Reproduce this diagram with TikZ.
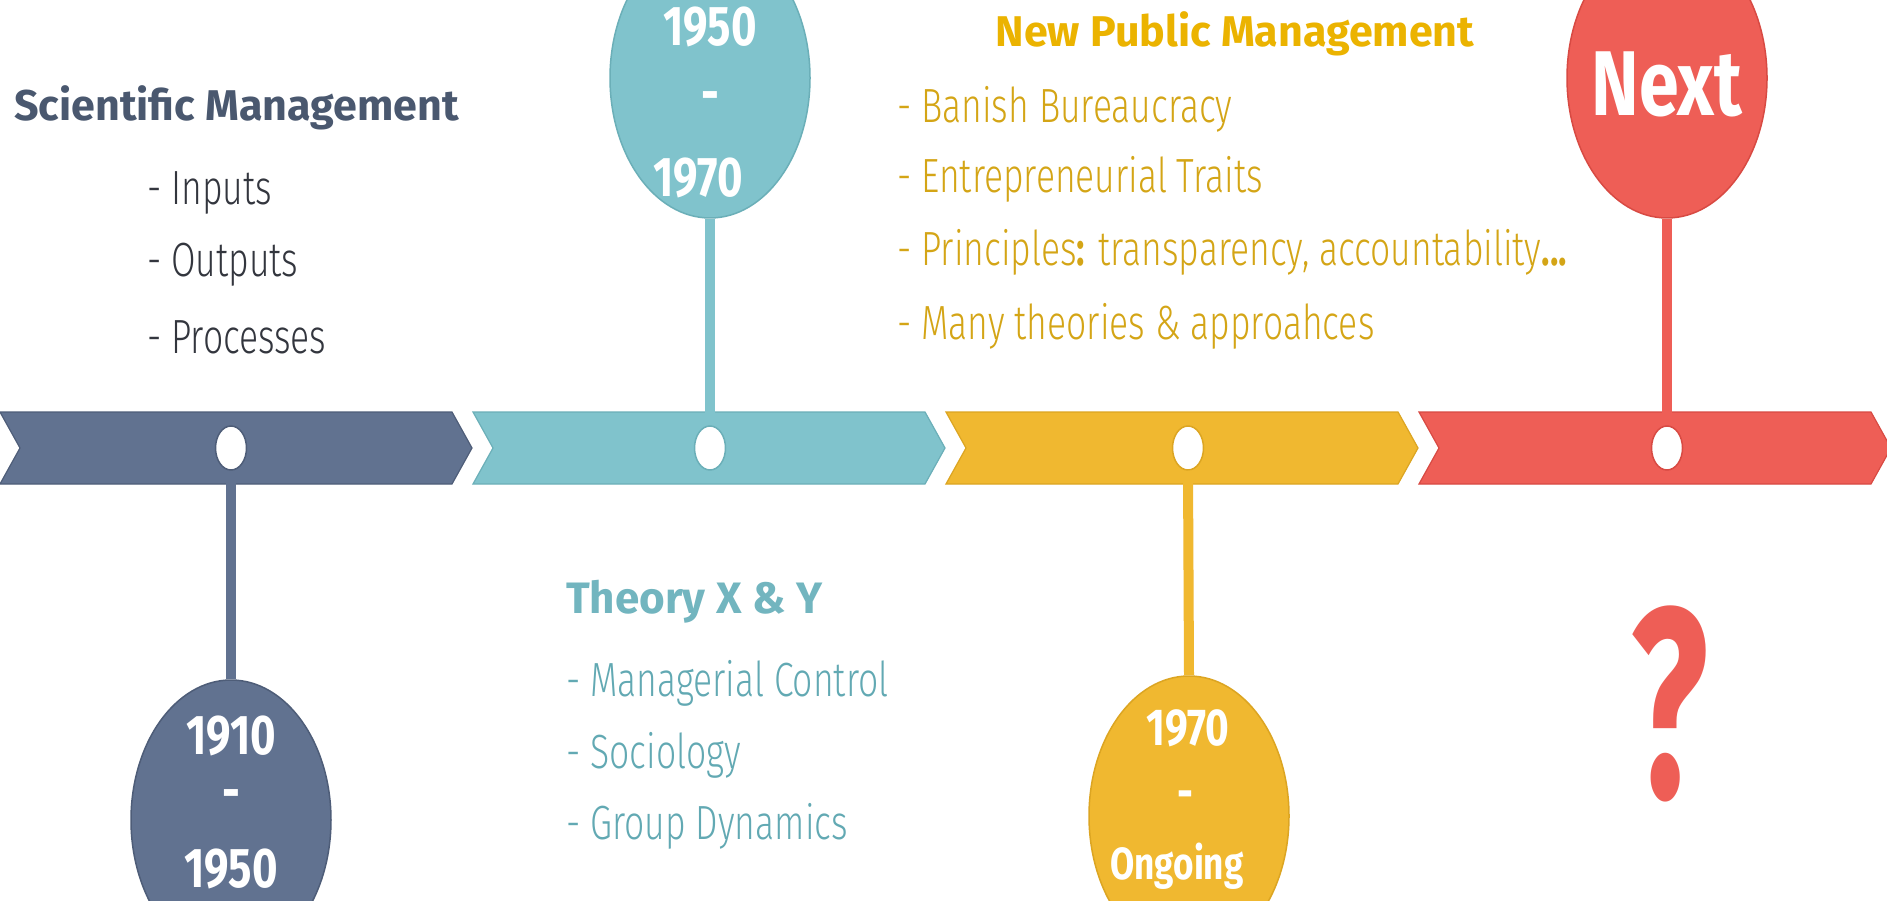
\documentclass[tikz,border=0pt]{standalone}
\usepackage{fontspec}
\setmainfont{Fira Sans}
\newfontfamily\headfont{Fira Sans}
\newfontfamily\condfont[FakeStretch=0.78]{Fira Sans}
\newfontfamily\lightfont[FakeStretch=0.74]{Fira Sans Light}
\newfontfamily\qfont[FakeStretch=0.6]{Fira Sans}
\usetikzlibrary{shapes.geometric}
\definecolor{cSlate}{HTML}{617290}
\definecolor{cSlateD}{HTML}{4E5D78}
\definecolor{cSlateT}{HTML}{4A586F}
\definecolor{cSlateL}{HTML}{33363E}
\definecolor{cTeal}{HTML}{80C3CC}
\definecolor{cTealD}{HTML}{6BAFB8}
\definecolor{cTealT}{HTML}{72B5BF}
\definecolor{cTealL}{HTML}{62A9B3}
\definecolor{cGold}{HTML}{F0B830}
\definecolor{cGoldD}{HTML}{DCA522}
\definecolor{cGoldT}{HTML}{EBB300}
\definecolor{cGoldL}{HTML}{D4A516}
\definecolor{cCoral}{HTML}{EE5E56}
\definecolor{cCoralD}{HTML}{D84A43}
\tikzset{
  seg/.style={line width=1.2pt},
  pin/.style={ellipse, minimum width=200pt, minimum height=280pt, inner sep=0pt, line width=1.5pt},
  dotc/.style={ellipse, fill=white, minimum width=31pt, minimum height=44pt, inner sep=0pt, line width=1.5pt},
  stem/.style={line width=10pt},
  head/.style={font=\headfont\bfseries\fontsize{43}{50}\selectfont, inner sep=0pt},
  item/.style={font=\lightfont\fontsize{48}{56}\selectfont, anchor=west, inner sep=0pt},
  year/.style={font=\condfont\bfseries\fontsize{56}{60}\selectfont, text=white, inner sep=0pt},
}
\begin{document}
\begin{tikzpicture}[x=1pt,y=-1pt]
\useasboundingbox (0,0) rectangle (1887,901);
\clip (0,0) rectangle (1887,901);
\fill[white] (0,0) rectangle (1887,901);
% chevron band
\foreach \L/\c/\d in {0/cSlate/cSlateD, 473/cTeal/cTealD, 946/cGold/cGoldD, 1419/cCoral/cCoralD}
  \filldraw[fill=\c, draw=\d, seg] (\L,412) -- ++(452,0) -- ++(20,36) -- ++(-20,36) -- ++(-452,0) -- ++(20,-36) -- cycle;
% pins
\node[pin, fill=cSlate, draw=cSlateD] (p1) at (231,820) {};
\node[pin, fill=cTeal, draw=cTealD] (p2) at (710,78) {};
\node[pin, fill=cGold, draw=cGoldD] (p3) at (1189,816) {};
\node[pin, fill=cCoral, draw=cCoralD] (p4) at (1667,78) {};
% dots
\node[dotc, draw=cSlateD] (d1) at (231,448) {};
\node[dotc, draw=cTealD] (d2) at (710,448) {};
\node[dotc, draw=cGoldD] (d3) at (1188,448) {};
\node[dotc, draw=cCoralD] (d4) at (1667,448) {};
% stems
\draw[stem, cSlate] (p1.north) -- (d1.south);
\draw[stem, cTeal] (p2.south) -- (d2.north);
\draw[stem, cGold] (p3.north) -- (d3.south);
\draw[stem, cCoral] (p4.south) -- (d4.north);
% years
\node[year] (y1a) at (231,736) {1910};
\node[year] (y1b) at (231,800) {-};
\node[year] (y1c) at (231,869) {1950};
\node[year] (y2a) at (710,27) {1950};
\node[year] (y2b) at (710,102) {-};
\node[year] (y2c) at (698,178) {1970};
\node[year, font=\condfont\bfseries\fontsize{52}{56}\selectfont] (y3a) at (1188,728) {1970};
\node[year, font=\condfont\bfseries\fontsize{50}{54}\selectfont] (y3b) at (1185,800) {-};
\node[year, font=\condfont\bfseries\fontsize{45}{50}\selectfont] (y3c) at (1177,866) {Ongoing};
\node[year, font=\condfont\bfseries\fontsize{92}{96}\selectfont] (nx) at (1667,84) {Next};
% headings
\node[head, anchor=west, text=cSlateT] (h1) at (14,108) {Scientific Management};
\node[head, text=cGoldT] (h3) at (1235,34) {New Public Management};
\node[head, anchor=west, text=cTealT, font=\headfont\bfseries\fontsize{44}{52}\selectfont] (h2) at (566,602) {Theory X \& Y};
% lists
\node[item, text=cSlateL] (a1) at (147,193) {- Inputs};
\node[item, text=cSlateL] (a2) at (147,265) {- Outputs};
\node[item, text=cSlateL] (a3) at (147,337) {- Processes};
\node[item, text=cGoldL] (b1) at (897,109) {- Banish Bureaucracy};
\node[item, text=cGoldL] (b2) at (897,179) {- Entrepreneurial Traits};
\node[item, text=cGoldL] (b3) at (897,252) {- Principles\textbf{:} transparency, accountability\textbf{...}};
\node[item, text=cGoldL] (b4) at (897,326) {- Many theories \& approahces};
\node[item, text=cTealL] (c1) at (566,683) {- Managerial Control};
\node[item, text=cTealL] (c2) at (566,755) {- Sociology};
\node[item, text=cTealL] (c3) at (566,826) {- Group Dynamics};
% question mark
\node[font=\qfont\bfseries\fontsize{270}{270}\selectfont, text=cCoral, inner sep=0pt] (q) at (1669,704) {?};
\end{tikzpicture}
\end{document}
